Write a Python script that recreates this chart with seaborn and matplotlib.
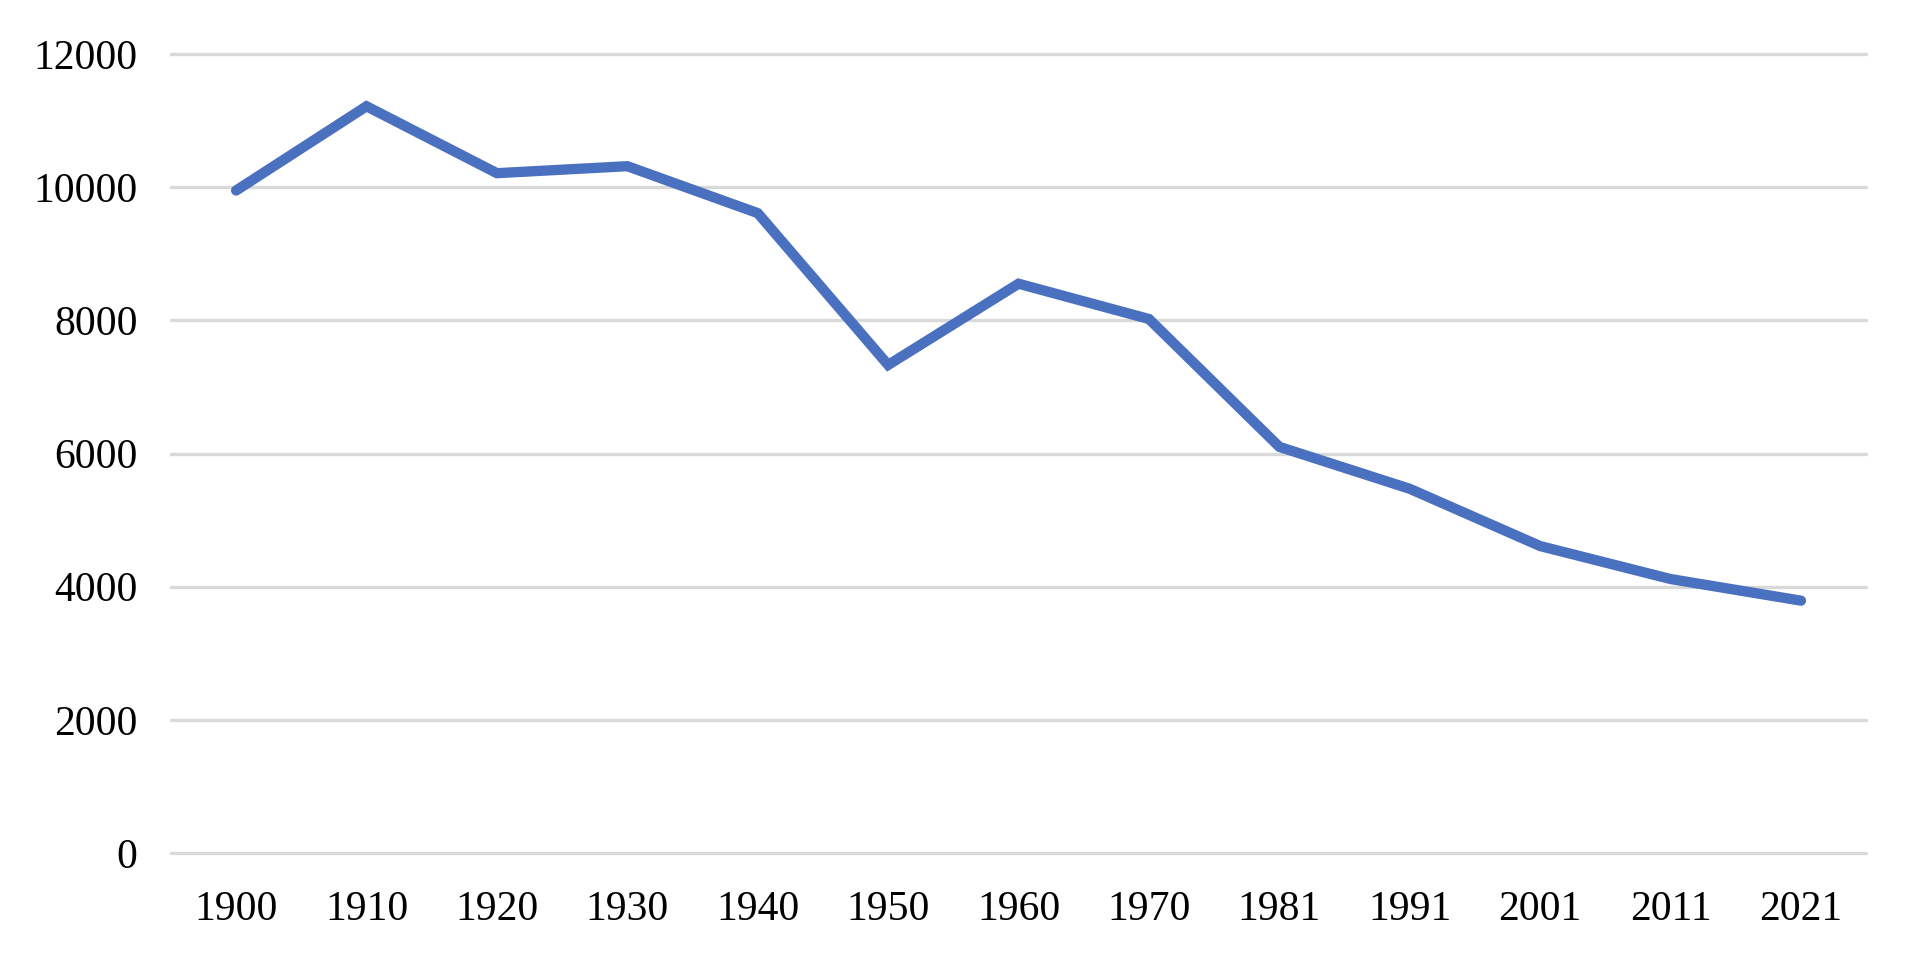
import matplotlib
matplotlib.use("Agg")
import matplotlib.pyplot as plt
import seaborn as sns
import pandas as pd

years = ["1900", "1910", "1920", "1930", "1940", "1950", "1960",
         "1970", "1981", "1991", "2001", "2011", "2021"]
values = [9950, 11215, 10210, 10315, 9610, 7330, 8550,
          8020, 6100, 5470, 4610, 4115, 3790]
yticks = [0, 2000, 4000, 6000, 8000, 10000, 12000]

df = pd.DataFrame({"year": years, "value": values})

sns.set_style("white")
plt.rcParams["font.family"] = ["Liberation Serif", "DejaVu Serif"]

fig = plt.figure(figsize=(19.16, 9.64), dpi=100)
ax = fig.add_axes([0.0892, 0.1151, 0.8848, 0.8289])

sns.lineplot(data=df, x="year", y="value", ax=ax, color="#4a70c0",
             linewidth=7.4, solid_capstyle="round", solid_joinstyle="miter",
             zorder=3)

ax.set_ylim(0, 12000)
ax.set_xlim(-0.5, len(years) - 0.5)
ax.set_yticks(yticks)
ax.set_yticklabels([str(t) for t in yticks])
ax.grid(False)
for t in yticks:
    ax.axhline(t, color="#d9d9d9", linewidth=2.4, clip_on=False, zorder=1)
ax.set_xlabel("")
ax.set_ylabel("")
for s in ax.spines.values():
    s.set_visible(False)
ax.tick_params(axis="y", length=0, pad=24, labelsize=30, labelcolor="black")
ax.tick_params(axis="x", length=0, pad=27, labelsize=30, labelcolor="black")

fig.savefig("out.png", dpi=100)
